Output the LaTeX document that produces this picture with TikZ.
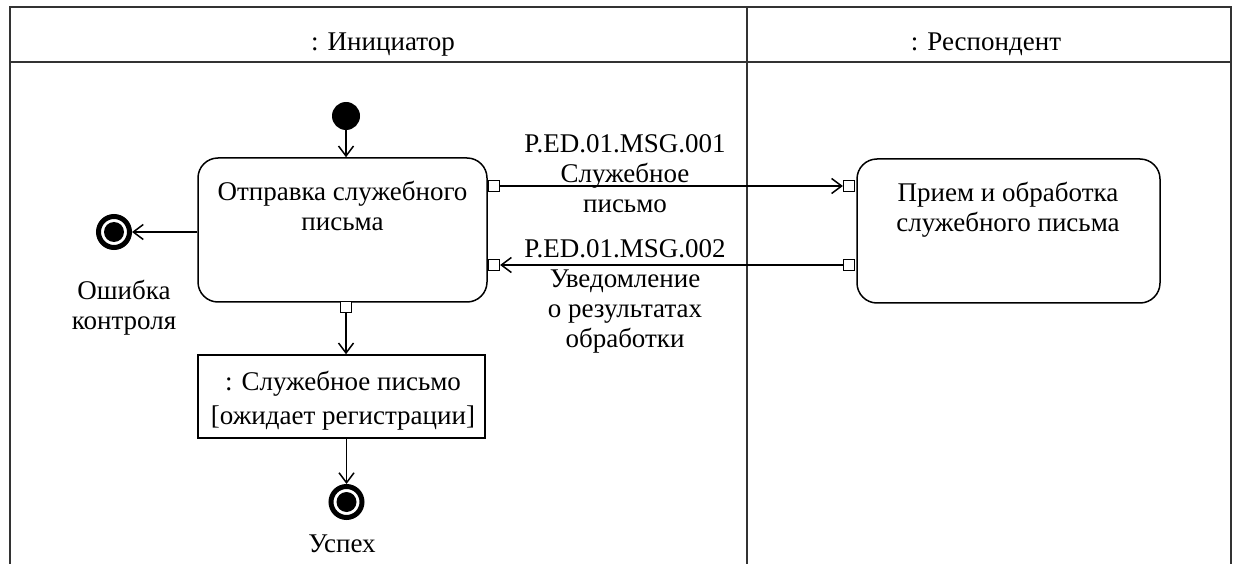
\documentclass[tikz,border=0pt]{standalone}
\usepackage{fontspec}
\setmainfont{Liberation Serif}
\usetikzlibrary{arrows.meta}
\begin{document}
\begin{tikzpicture}[x=1pt,y=-1pt,
  every node/.style={font=\fontsize{27}{30}\selectfont},
  lane/.style={line width=2pt, draw=black!80},
  actbox/.style={draw, rounded corners=20pt, line width=1.5pt, minimum width=289pt, minimum height=144pt, inner sep=0},
  objbox/.style={draw, line width=1.5pt, minimum width=287pt, minimum height=83pt, inner sep=0},
  pin/.style={draw, fill=white, line width=1.3pt, minimum size=11pt, inner sep=0},
  initnode/.style={circle, fill=black, minimum size=28pt, inner sep=0},
  finalnode/.style={circle, draw, line width=5pt, minimum size=31pt, inner sep=0, outer sep=2.5pt, fill=white,
    path picture={\fill[black] (path picture bounding box.center) circle (10pt);}},
  txt/.style={align=center, anchor=base, inner sep=0},
  flow/.style={line width=1.5pt, -{Straight Barb[length=10pt,width=15pt,line width=1.5pt]}}
]
\useasboundingbox (0,0) rectangle (1235,564);
% swimlane frame
\draw[lane] (10,564) -- (10,7.5) -- (1231,7.5) -- (1231,564);
\draw[lane] (10,62) -- (1231,62);
\draw[lane] (747,7.5) -- (747,564);
\node[txt] (h1) at (383,51) {: Инициатор};
\node[txt] (h2) at (986,51) {: Респондент};
% nodes
\node[initnode] (init) at (346,116) {};
\node[actbox] (send) at (342.5,230) {};
\node[txt] (sendt) at (342.5,231) {Отправка служебного\\письма};
\node[actbox, minimum width=303pt] (recv) at (1008.5,231) {};
\node[txt] (recvt) at (1008,232) {Прием и обработка\\служебного письма};
\node[objbox] (obj) at (341.5,396.5) {};
\node[txt] (objt) at (343,424) {: Служебное письмо\\[4pt]{[}ожидает регистрации{]}};
\node[finalnode] (errEnd) at (114,232) {};
\node[txt] (errt) at (124,330) {Ошибка\\контроля};
\node[finalnode] (okEnd) at (346.5,502) {};
\node[txt] (okt) at (342,552) {Успех};
% pins
\node[pin] (p1) at (494,186) {};
\node[pin] (p2) at (494,265) {};
\node[pin] (p3) at (849,186) {};
\node[pin] (p4) at (849,265) {};
\node[pin] (p5) at (346,307) {};
% message labels
\node[txt] (m1) at (625,213) {P.ED.01.MSG.001\\Служебное\\письмо};
\node[txt] (m2) at (625,347) {P.ED.01.MSG.002\\Уведомление\\о результатах\\обработки};
% connectors
\draw[flow] (init) -- (init |- send.north);
\draw[flow] (send.west |- errEnd) -- (errEnd);
\draw[flow] (p1) -- (p3);
\draw[flow] (p4) -- (p2);
\draw[flow] (p5) -- (p5 |- obj.north);
\draw[flow] (okEnd |- obj.south) -- (okEnd);
\end{tikzpicture}
\end{document}
